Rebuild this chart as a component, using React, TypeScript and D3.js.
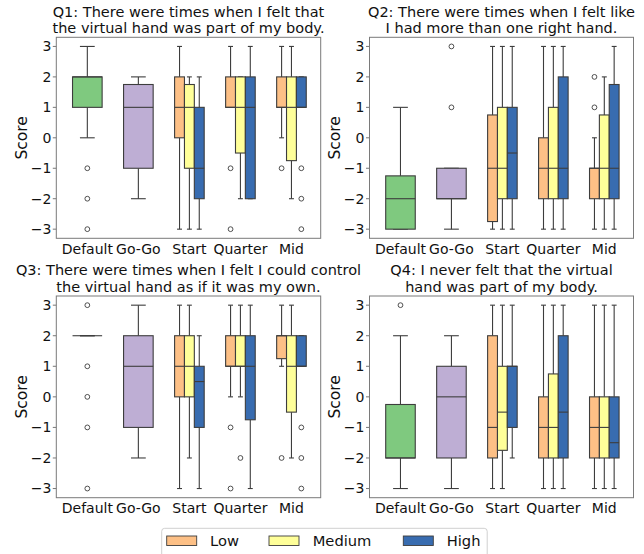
import React from "react";
import * as d3 from "d3";

// ---------- data ----------
const categories = ["Default", "Go-Go", "Start", "Quarter", "Mid"];
const levels = ["Low", "Medium", "High"];
const yTicks = [-3, -2, -1, 0, 1, 2, 3];
const titles = [
  ["Q1: There were times when I felt that", "the virtual hand was part of my body."],
  ["Q2: There were times when I felt like", "I had more than one right hand."],
  ["Q3: There were times when I felt I could control", "the virtual hand as if it was my own."],
  ["Q4: I never felt that the virtual", "hand was part of my body."],
];

// box stats: [whiskerLow, q1, median, q3, whiskerHigh]
// single boxes: Default, Go-Go
const q1Single = [[0, 1, 2, 2, 3], [-2, -1, 1, 1.75, 2]];
const q1SingleOut = [[-1, -2, -3], []];
// grouped: Start, Quarter, Mid  x  Low, Medium, High
const q1Grouped = [
  [[-3, 0, 1, 2, 3], [-3, -1, 1, 1.75, 2], [-3, -2, -1, 1, 2]],
  [[1, 1, 1, 2, 3], [-2, -0.5, 1, 2, 2], [-2, -2, 1, 2, 3]],
  [[0, 1, 1, 2, 3], [-2, -0.75, 1, 2, 3], [1, 1, 1, 2, 2]],
];
const q1GroupedOut = [
  [[], [], []],
  [[-1, -3], [], []],
  [[-1], [], [-1, -2, -3]],
];

const q2Single = [[-3, -3, -2, -1.25, 1], [-3, -2, -2, -1, -1]];
const q2SingleOut = [[], [1, 3]];
const q2Grouped = [
  [[-3, -2.75, -1, 0.75, 3], [-3, -2, -1, 1, 3], [-3, -2, -0.5, 1, 3]],
  [[-3, -2, -1, 0, 3], [-3, -2, -1, 1, 3], [-3, -2, -1, 2, 3]],
  [[-3, -2, -1, -1, 0], [-3, -2, -1, 0.75, 2], [-3, -2, -1, 1.75, 3]],
];
const q2GroupedOut = [
  [[], [], []],
  [[], [], []],
  [[1, 2], [], []],
];

const q3Single = [[2, 2, 2, 2, 2], [-2, -1, 1, 2, 3]];
const q3SingleOut = [[3, 1, 0, -1, -3], []];
const q3Grouped = [
  [[-3, 0, 1, 2, 3], [-2, 0, 1, 2, 3], [-3, -1, 0.5, 1, 2]],
  [[0, 1, 1, 2, 3], [0, 1, 1, 2, 3], [-3, -0.75, 1, 2, 3]],
  [[1, 1.25, 2, 2, 3], [-2, -0.5, 1, 2, 3], [1, 1, 1, 2, 2]],
];
const q3GroupedOut = [
  [[], [], []],
  [[-1, -3], [-2], []],
  [[-2], [], [-1, -2, -3]],
];

const q4Single = [[-3, -2, -2, -0.25, 2], [-3, -2, 0, 1, 2]];
const q4SingleOut = [[3], []];
const q4Grouped = [
  [[-3, -2, -1, 2, 3], [-3, -1.75, -0.5, 1, 3], [-2, -1, 1, 1, 3]],
  [[-3, -2, -1, 0, 3], [-3, -2, -1, 0.75, 3], [-3, -2, -0.5, 2, 3]],
  [[-3, -2, -1, 0, 3], [-3, -2, -1, 0, 3], [-3, -2, -1.5, 0, 3]],
];
const q4GroupedOut = [
  [[], [], []],
  [[], [], []],
  [[], [], []],
];

const panelsData = [
  { single: q1Single, singleOut: q1SingleOut, grouped: q1Grouped, groupedOut: q1GroupedOut },
  { single: q2Single, singleOut: q2SingleOut, grouped: q2Grouped, groupedOut: q2GroupedOut },
  { single: q3Single, singleOut: q3SingleOut, grouped: q3Grouped, groupedOut: q3GroupedOut },
  { single: q4Single, singleOut: q4SingleOut, grouped: q4Grouped, groupedOut: q4GroupedOut },
];

const singleColors = ["#7fc97f", "#beaed4"];
const levelColors = ["#fdc086", "#ffff99", "#386cb0"];

// ---------- layout ----------
const W = 644;
const H = 554;
const FONT = "DejaVu Sans, sans-serif";
const LINE = "#3d3d3d";
const panelsLayout = [
  { left: 56.3, right: 320.7, top: 37.3, bottom: 238.3 },
  { left: 369.5, right: 633.5, top: 37.3, bottom: 238.3 },
  { left: 56.3, right: 320.7, top: 296, bottom: 497.7 },
  { left: 369.5, right: 633.5, top: 296, bottom: 497.7 },
];
const BOX_W = 0.58;

function Box({ stats, out, cx, w, x, y, color }: any) {
  const [wl, q1, med, q3, wh] = stats;
  const x0 = x(cx - w / 2);
  const x1 = x(cx + w / 2);
  const xc = x(cx);
  const capHalf = (x1 - x0) / 4;
  return (
    <g>
      <line x1={xc} x2={xc} y1={y(q3)} y2={y(wh)} stroke={LINE} strokeWidth={1.1} />
      <line x1={xc} x2={xc} y1={y(q1)} y2={y(wl)} stroke={LINE} strokeWidth={1.1} />
      <line x1={xc - capHalf} x2={xc + capHalf} y1={y(wh)} y2={y(wh)} stroke={LINE} strokeWidth={1.1} />
      <line x1={xc - capHalf} x2={xc + capHalf} y1={y(wl)} y2={y(wl)} stroke={LINE} strokeWidth={1.1} />
      <rect x={x0} y={y(q3)} width={x1 - x0} height={Math.max(0, y(q1) - y(q3))} fill={color} stroke={LINE} strokeWidth={1.1} />
      <line x1={x0} x2={x1} y1={y(med)} y2={y(med)} stroke={LINE} strokeWidth={1.1} />
      {out.map((v: number, i: number) => (
        <circle key={i} cx={xc} cy={y(v)} r={2.4} fill="none" stroke={LINE} strokeWidth={0.9} />
      ))}
    </g>
  );
}

function Panel({ idx }: { idx: number }) {
  const L = panelsLayout[idx];
  const D = panelsData[idx];
  const x = d3.scaleLinear().domain([-0.608, 4.573]).range([L.left, L.right]);
  const y = d3.scaleLinear().domain([-3.3, 3.3]).range([L.bottom, L.top]);
  const cxAxes = (L.left + L.right) / 2;
  const cyAxes = (L.top + L.bottom) / 2;
  const sub = BOX_W / 3;
  return (
    <g>
      <text x={cxAxes} y={L.top - 20.6} textAnchor="middle" fontSize={14.5} fontFamily={FONT} fill="#111">
        {titles[idx][0]}
      </text>
      <text x={cxAxes} y={L.top - 4} textAnchor="middle" fontSize={14.5} fontFamily={FONT} fill="#111">
        {titles[idx][1]}
      </text>
      <text
        transform={`translate(${L.left - 29.5},${cyAxes}) rotate(-90)`}
        textAnchor="middle"
        fontSize={15.5}
        fontFamily={FONT}
        fill="#111"
      >
        Score
      </text>
      {yTicks.map((t) => (
        <g key={t}>
          <line x1={L.left - 3.5} x2={L.left} y1={y(t)} y2={y(t)} stroke="#555" strokeWidth={0.8} />
          <text x={L.left - 5} y={y(t)} dy="0.35em" textAnchor="end" fontSize={14} fontFamily={FONT} fill="#111">
            {t < 0 ? "\u2212" + Math.abs(t) : String(t)}
          </text>
        </g>
      ))}
      {categories.map((c, i) => (
        <text key={c} x={x(i)} y={L.bottom + 15.7} textAnchor="middle" fontSize={14} fontFamily={FONT} fill="#111">
          {c}
        </text>
      ))}
      {D.single.map((s, i) => (
        <Box key={"s" + i} stats={s} out={D.singleOut[i]} cx={i} w={BOX_W} x={x} y={y} color={singleColors[i]} />
      ))}
      {D.grouped.map((grp, gi) =>
        grp.map((s, li) => (
          <Box
            key={"g" + gi + li}
            stats={s}
            out={D.groupedOut[gi][li]}
            cx={gi + 2 + (li - 1) * sub}
            w={sub}
            x={x}
            y={y}
            color={levelColors[li]}
          />
        ))
      )}
      <rect x={L.left} y={L.top} width={L.right - L.left} height={L.bottom - L.top} fill="none" stroke="#7a7a7a" strokeWidth={1} />
    </g>
  );
}

function Legend() {
  const items = [
    { x: 166.7, tx: 210 },
    { x: 269, tx: 312.7 },
    { x: 403.3, tx: 446.7 },
  ];
  return (
    <g>
      <rect x={161.7} y={528.3} width={325.5} height={40} rx={3} fill="#fff" stroke="#d0d0d0" strokeWidth={1} />
      {levels.map((lv, i) => (
        <g key={lv}>
          <rect x={items[i].x} y={536} width={30} height={9.5} fill={levelColors[i]} stroke={LINE} strokeWidth={0.9} />
          <text x={items[i].tx} y={546} fontSize={14.7} fontFamily={FONT} fill="#111">
            {lv}
          </text>
        </g>
      ))}
    </g>
  );
}

export default function App() {
  return (
    <svg
      width={W}
      height={H}
      viewBox={`0 0 ${W} ${H}`}
      style={{ position: "absolute", left: 0, top: 0, background: "#fff" }}
    >
      <rect width={W} height={H} fill="#fff" />
      {[0, 1, 2, 3].map((i) => (
        <Panel key={i} idx={i} />
      ))}
      <Legend />
    </svg>
  );
}
